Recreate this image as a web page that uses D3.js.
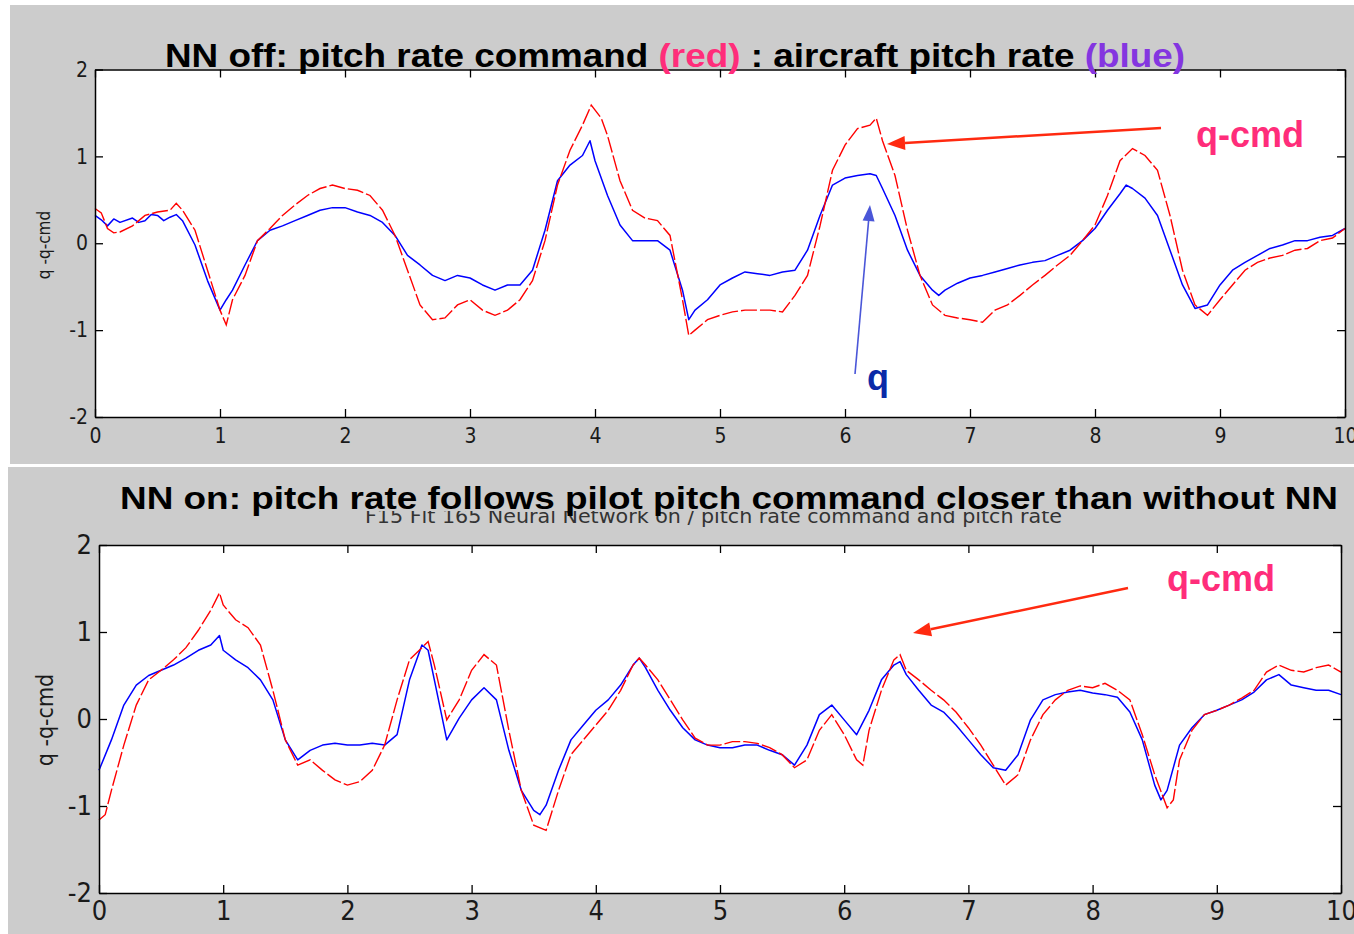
<!DOCTYPE html>
<html><head><meta charset="utf-8">
<script src="https://cdn.jsdelivr.net/npm/d3@7"></script>
<style>
html,body{margin:0;padding:0;background:#fff;}
svg{display:block;}
</style></head>
<body>
<svg id="c" width="1354" height="934"></svg>
<script>
// ---------- data (time s, pitch rate) ----------
const xTicks = [0,1,2,3,4,5,6,7,8,9,10];
const yTicks = [-2,-1,0,1,2];

// NN off : aircraft pitch rate q (blue)
const qOff = [[0,0.32],[0.05,0.27],[0.1,0.2],[0.15,0.28],[0.2,0.24],[0.3,0.29],[0.35,0.24],[0.4,0.26],[0.45,0.33],[0.5,0.32],[0.55,0.26],[0.6,0.3],[0.65,0.33],[0.7,0.26],[0.8,-0.02],[0.9,-0.43],[1.0,-0.77],[1.05,-0.65],[1.1,-0.54],[1.2,-0.25],[1.3,0.03],[1.4,0.15],[1.5,0.2],[1.6,0.26],[1.7,0.32],[1.8,0.38],[1.9,0.41],[2.0,0.41],[2.1,0.36],[2.2,0.32],[2.3,0.24],[2.4,0.09],[2.5,-0.14],[2.6,-0.25],[2.7,-0.37],[2.8,-0.43],[2.9,-0.37],[3.0,-0.4],[3.1,-0.48],[3.2,-0.54],[3.3,-0.48],[3.4,-0.48],[3.5,-0.31],[3.6,0.15],[3.7,0.72],[3.8,0.9],[3.9,1.01],[3.96,1.18],[4.0,0.95],[4.1,0.55],[4.2,0.21],[4.3,0.03],[4.4,0.03],[4.5,0.03],[4.6,-0.08],[4.7,-0.54],[4.75,-0.88],[4.8,-0.77],[4.9,-0.65],[5.0,-0.48],[5.1,-0.4],[5.2,-0.33],[5.3,-0.35],[5.4,-0.37],[5.5,-0.33],[5.6,-0.31],[5.7,-0.08],[5.8,0.32],[5.9,0.67],[6.0,0.75],[6.1,0.78],[6.2,0.8],[6.25,0.78],[6.3,0.63],[6.4,0.32],[6.5,-0.08],[6.6,-0.37],[6.7,-0.54],[6.75,-0.6],[6.8,-0.54],[6.9,-0.46],[7.0,-0.4],[7.1,-0.37],[7.2,-0.33],[7.3,-0.29],[7.4,-0.25],[7.5,-0.22],[7.6,-0.2],[7.7,-0.14],[7.8,-0.08],[7.9,0.03],[8.0,0.17],[8.1,0.38],[8.2,0.57],[8.25,0.67],[8.3,0.63],[8.4,0.52],[8.5,0.32],[8.6,-0.08],[8.7,-0.48],[8.8,-0.75],[8.9,-0.71],[9.0,-0.48],[9.1,-0.31],[9.2,-0.22],[9.3,-0.14],[9.4,-0.06],[9.5,-0.02],[9.6,0.03],[9.7,0.03],[9.8,0.07],[9.9,0.09],[10,0.17]];

// NN off : pitch rate command q-cmd (red)
const qcmdOff = [[0,0.4],[0.05,0.35],[0.1,0.17],[0.15,0.12],[0.2,0.13],[0.3,0.2],[0.4,0.32],[0.5,0.36],[0.6,0.38],[0.65,0.46],[0.7,0.38],[0.8,0.15],[0.9,-0.31],[1.0,-0.77],[1.05,-0.94],[1.1,-0.65],[1.2,-0.37],[1.3,0.03],[1.4,0.17],[1.5,0.32],[1.6,0.44],[1.7,0.55],[1.8,0.63],[1.9,0.67],[2.0,0.63],[2.1,0.61],[2.2,0.55],[2.3,0.38],[2.4,0.09],[2.5,-0.31],[2.6,-0.71],[2.7,-0.88],[2.8,-0.86],[2.9,-0.71],[3.0,-0.65],[3.1,-0.77],[3.2,-0.83],[3.3,-0.77],[3.4,-0.65],[3.5,-0.43],[3.6,0.03],[3.7,0.67],[3.8,1.07],[3.9,1.36],[3.97,1.59],[4.05,1.44],[4.1,1.24],[4.2,0.72],[4.3,0.38],[4.4,0.29],[4.5,0.26],[4.6,0.09],[4.7,-0.65],[4.75,-1.06],[4.8,-1.0],[4.9,-0.88],[5.0,-0.83],[5.1,-0.79],[5.2,-0.77],[5.3,-0.77],[5.4,-0.77],[5.5,-0.79],[5.6,-0.6],[5.7,-0.37],[5.8,0.2],[5.9,0.84],[6.0,1.13],[6.1,1.32],[6.2,1.36],[6.25,1.44],[6.3,1.18],[6.4,0.78],[6.5,0.15],[6.6,-0.37],[6.7,-0.71],[6.8,-0.83],[6.9,-0.86],[7.0,-0.88],[7.1,-0.91],[7.2,-0.77],[7.3,-0.71],[7.4,-0.6],[7.5,-0.48],[7.6,-0.37],[7.7,-0.25],[7.8,-0.14],[7.9,0.03],[8.0,0.21],[8.1,0.55],[8.2,0.95],[8.3,1.09],[8.4,1.01],[8.5,0.84],[8.6,0.32],[8.7,-0.31],[8.8,-0.71],[8.9,-0.83],[9.0,-0.65],[9.1,-0.48],[9.2,-0.31],[9.3,-0.22],[9.4,-0.17],[9.5,-0.14],[9.6,-0.08],[9.7,-0.06],[9.8,0.03],[9.9,0.06],[10,0.17]];

// NN on : aircraft pitch rate q (blue)
const qOn = [[0,-0.59],[0.1,-0.24],[0.2,0.16],[0.3,0.39],[0.4,0.5],[0.5,0.56],[0.6,0.62],[0.7,0.7],[0.8,0.79],[0.9,0.85],[0.97,0.96],[1.0,0.79],[1.1,0.68],[1.2,0.59],[1.3,0.45],[1.4,0.22],[1.5,-0.24],[1.6,-0.47],[1.7,-0.36],[1.8,-0.3],[1.9,-0.28],[2.0,-0.3],[2.1,-0.3],[2.2,-0.28],[2.3,-0.3],[2.4,-0.18],[2.5,0.45],[2.6,0.85],[2.65,0.79],[2.7,0.45],[2.8,-0.24],[2.9,0.01],[3.0,0.22],[3.1,0.36],[3.2,0.22],[3.3,-0.36],[3.4,-0.82],[3.5,-1.05],[3.55,-1.1],[3.6,-0.99],[3.7,-0.59],[3.8,-0.24],[3.9,-0.07],[4.0,0.1],[4.1,0.22],[4.2,0.39],[4.3,0.62],[4.35,0.7],[4.4,0.59],[4.5,0.33],[4.6,0.1],[4.7,-0.1],[4.8,-0.24],[4.9,-0.3],[5.0,-0.33],[5.1,-0.33],[5.2,-0.3],[5.3,-0.3],[5.4,-0.36],[5.5,-0.41],[5.6,-0.53],[5.7,-0.3],[5.8,0.05],[5.9,0.16],[6.0,-0.01],[6.1,-0.18],[6.2,0.1],[6.3,0.45],[6.4,0.62],[6.45,0.66],[6.5,0.51],[6.6,0.33],[6.7,0.16],[6.8,0.08],[6.9,-0.07],[7.0,-0.24],[7.1,-0.41],[7.2,-0.56],[7.3,-0.59],[7.4,-0.41],[7.5,-0.01],[7.6,0.22],[7.7,0.28],[7.8,0.31],[7.9,0.33],[8.0,0.3],[8.1,0.28],[8.2,0.25],[8.3,0.08],[8.4,-0.24],[8.5,-0.76],[8.55,-0.93],[8.6,-0.82],[8.7,-0.3],[8.8,-0.1],[8.9,0.05],[9.0,0.1],[9.1,0.16],[9.2,0.22],[9.3,0.31],[9.4,0.45],[9.5,0.51],[9.6,0.39],[9.7,0.36],[9.8,0.33],[9.9,0.33],[10,0.28]];

// NN on : pitch rate command q-cmd (red)
const qcmdOn = [[0,-1.16],[0.05,-1.1],[0.1,-0.82],[0.2,-0.3],[0.3,0.16],[0.4,0.45],[0.5,0.56],[0.6,0.68],[0.7,0.82],[0.8,1.02],[0.9,1.25],[0.97,1.45],[1.0,1.31],[1.1,1.14],[1.2,1.05],[1.3,0.85],[1.4,0.33],[1.5,-0.24],[1.6,-0.53],[1.7,-0.47],[1.8,-0.59],[1.9,-0.7],[2.0,-0.76],[2.1,-0.72],[2.2,-0.59],[2.3,-0.3],[2.4,0.22],[2.5,0.68],[2.6,0.82],[2.65,0.89],[2.7,0.62],[2.8,-0.01],[2.9,0.22],[3.0,0.56],[3.1,0.74],[3.2,0.62],[3.3,-0.13],[3.4,-0.82],[3.5,-1.22],[3.6,-1.28],[3.7,-0.82],[3.8,-0.41],[3.9,-0.24],[4.0,-0.07],[4.1,0.1],[4.2,0.33],[4.3,0.62],[4.35,0.7],[4.4,0.62],[4.5,0.45],[4.6,0.22],[4.7,-0.01],[4.8,-0.22],[4.9,-0.3],[5.0,-0.3],[5.1,-0.26],[5.2,-0.26],[5.3,-0.28],[5.4,-0.33],[5.5,-0.41],[5.6,-0.56],[5.7,-0.47],[5.8,-0.13],[5.9,0.05],[6.0,-0.18],[6.1,-0.47],[6.15,-0.53],[6.2,-0.13],[6.3,0.33],[6.4,0.68],[6.45,0.74],[6.5,0.56],[6.6,0.45],[6.7,0.33],[6.8,0.22],[6.9,0.08],[7.0,-0.1],[7.1,-0.3],[7.2,-0.53],[7.3,-0.76],[7.4,-0.64],[7.5,-0.24],[7.6,0.05],[7.7,0.22],[7.8,0.33],[7.9,0.38],[8.0,0.36],[8.1,0.41],[8.2,0.33],[8.3,0.22],[8.4,-0.18],[8.5,-0.64],[8.6,-1.02],[8.65,-0.93],[8.7,-0.47],[8.8,-0.13],[8.9,0.05],[9.0,0.1],[9.1,0.16],[9.2,0.24],[9.3,0.33],[9.4,0.54],[9.5,0.62],[9.6,0.56],[9.7,0.54],[9.8,0.59],[9.9,0.62],[10,0.54]];

// ---------- drawing ----------
const svg = d3.select("#c");
const GRAY = "#cccccc";
const tickFont = "'DejaVu Sans Condensed','DejaVu Sans','Liberation Sans',sans-serif";
const boldFont = "'Liberation Sans',Arial,Helvetica,sans-serif";
const fmt = d => String(d);

// panel backgrounds
svg.append("rect").attr("x",10).attr("y",5).attr("width",1344).attr("height",459).attr("fill",GRAY);
svg.append("rect").attr("x",8).attr("y",467).attr("width",1346).attr("height",467).attr("fill",GRAY);

function panel(cfg){
  const x = d3.scaleLinear().domain([0,10]).range([cfg.x0,cfg.x1]);
  const y = d3.scaleLinear().domain([-2,2]).range([cfg.y0,cfg.y1]);
  const g = svg.append("g");
  g.append("rect").attr("x",cfg.x0).attr("y",cfg.y1).attr("width",cfg.x1-cfg.x0).attr("height",cfg.y0-cfg.y1).attr("fill","#fff");

  const line = d3.line().x(d=>x(d[0])).y(d=>y(d[1]));
  g.append("path").datum(cfg.blue).attr("d",line).attr("fill","none").attr("stroke","#0000ff").attr("stroke-width",1.5).attr("stroke-linejoin","round");
  g.append("path").datum(cfg.red).attr("d",line).attr("fill","none").attr("stroke","#ff0000").attr("stroke-width",1.4).attr("stroke-dasharray","16,3");

  const tk = 8;
  const ax = g.append("g").attr("transform",`translate(0,${cfg.y0})`)
    .call(d3.axisBottom(x).tickValues(xTicks).tickSizeInner(-tk).tickSizeOuter(0).tickPadding(cfg.xPad).tickFormat(fmt));
  const at = g.append("g").attr("transform",`translate(0,${cfg.y1})`)
    .call(d3.axisTop(x).tickValues(xTicks).tickSizeInner(-tk).tickSizeOuter(0).tickFormat(""));
  const al = g.append("g").attr("transform",`translate(${cfg.x0},0)`)
    .call(d3.axisLeft(y).tickValues(yTicks).tickSizeInner(-tk).tickSizeOuter(0).tickPadding(cfg.yPad).tickFormat(fmt));
  const ar = g.append("g").attr("transform",`translate(${cfg.x1},0)`)
    .call(d3.axisRight(y).tickValues(yTicks).tickSizeInner(-tk).tickSizeOuter(0).tickFormat(""));
  [ax,at,al,ar].forEach(a=>{
    a.select(".domain").attr("stroke","#000").attr("stroke-width",1.5);
    a.selectAll(".tick line").attr("stroke","#000").attr("stroke-width",1.3);
    a.selectAll("text").attr("font-family",tickFont).attr("font-stretch","condensed").attr("font-size",cfg.fs).attr("fill","#1a1a1a");
  });
  ax.selectAll(".tick text").attr("dy","0.71em");
  al.selectAll(".tick text").attr("dy","0.32em");
  // y label
  g.append("text").attr("transform",`translate(${cfg.ylx},${cfg.yly}) rotate(-90)`)
    .attr("text-anchor","middle").attr("font-family",tickFont).attr("font-stretch","condensed").attr("font-size",cfg.yls).attr("fill","#1a1a1a").text("q -q-cmd");
  return {x,y};
}

panel({x0:95,x1:1345,y0:417,y1:69.5,blue:qOff,red:qcmdOff,fs:21,xPad:11,yPad:7,ylx:50,yly:245,yls:17});

// bottom panel: underlying original figure title (partly covered)
svg.append("text").attr("x",365).attr("y",523)
  .attr("font-family",tickFont).attr("font-stretch","condensed").attr("font-size",20).attr("fill","#333")
  .attr("textLength",697).attr("lengthAdjust","spacingAndGlyphs")
  .text("F15 Flt 165 Neural Network on / pitch rate command and pitch rate");
svg.append("rect").attr("x",100).attr("y",470).attr("width",1250).attr("height",41).attr("fill",GRAY);

panel({x0:99,x1:1341,y0:893,y1:545,blue:qOn,red:qcmdOn,fs:27,xPad:8,yPad:7,ylx:53,yly:720,yls:23});

// titles
const t1 = svg.append("text").attr("x",165).attr("y",67).attr("font-family",boldFont).attr("font-weight","bold").attr("font-size",34)
  .attr("textLength",1020).attr("lengthAdjust","spacingAndGlyphs");
t1.append("tspan").attr("fill","#000").text("NN off: pitch rate command ");
t1.append("tspan").attr("fill","#ff2d7a").text("(red)");
t1.append("tspan").attr("fill","#000").text(" : aircraft pitch rate ");
t1.append("tspan").attr("fill","#8436e0").text("(blue)");

svg.append("text").attr("x",120).attr("y",509).attr("font-family",boldFont).attr("font-weight","bold").attr("font-size",32)
  .attr("textLength",1218).attr("lengthAdjust","spacingAndGlyphs").attr("fill","#000")
  .text("NN on: pitch rate follows pilot pitch command closer than without NN");

// annotations
function arrow(x1,y1,x2,y2,color,w,hl,hw){
  const a = Math.atan2(y2-y1,x2-x1);
  const bx = x2 - hl*Math.cos(a), by = y2 - hl*Math.sin(a);
  svg.append("line").attr("x1",x1).attr("y1",y1).attr("x2",bx).attr("y2",by).attr("stroke",color).attr("stroke-width",w);
  const px = -Math.sin(a)*hw/2, py = Math.cos(a)*hw/2;
  svg.append("path").attr("d",`M${x2},${y2}L${bx+px},${by+py}L${bx-px},${by-py}Z`).attr("fill",color);
}
arrow(1161,128,887,144,"#ff2a10",2.5,18,14);
arrow(855,374,870,205,"#4a56d8",1.6,16,12);
arrow(1128,588,913,633,"#ff2a10",2.5,18,14);

svg.append("text").attr("x",1196).attr("y",147).attr("font-family",boldFont).attr("font-weight","bold").attr("font-size",36).attr("fill","#ff2d7a").text("q-cmd");
svg.append("text").attr("x",867).attr("y",390).attr("font-family",boldFont).attr("font-weight","bold").attr("font-size",36).attr("fill","#0a2aa8").text("q");
svg.append("text").attr("x",1167).attr("y",591).attr("font-family",boldFont).attr("font-weight","bold").attr("font-size",36).attr("fill","#ff2d7a").text("q-cmd");
</script>
</body></html>
